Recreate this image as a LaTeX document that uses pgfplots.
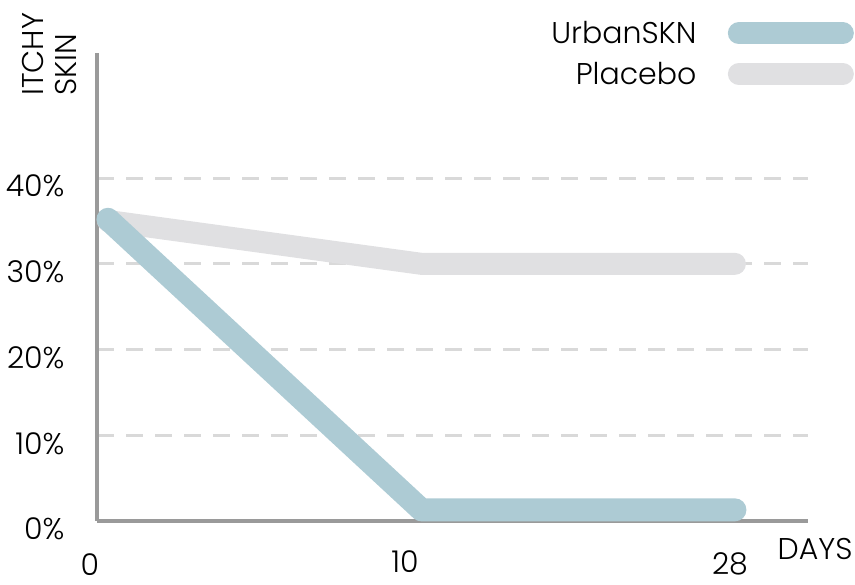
\documentclass[border=0pt]{standalone}
\usepackage{pgfplots}
\pgfplotsset{compat=1.18}
\usepackage{fontspec}
\setmainfont{Poppins}[UprightFont=* Light]
\definecolor{urban}{HTML}{ADCBD4}
\definecolor{placebo}{HTML}{E0E0E2}
\definecolor{axisgray}{HTML}{9A9A9A}
\definecolor{gridgray}{HTML}{D9D9D9}
\begin{document}
\begin{tikzpicture}
\path[use as bounding box] (0,0) rectangle (855pt,585pt);
\begin{axis}[
  at={(97pt,64pt)}, anchor=south west,
  scale only axis, width=711pt, height=468pt,
  xmin=-0.035, xmax=2.233, ymin=0, ymax=54.6,
  axis lines=left,
  axis line style={-, draw=axisgray, line width=4pt},
  font=\fontsize{30}{33}\selectfont,
  /pgf/number format/assume math mode=true,
  xtick={0,1,2},
  xticklabels={\makebox[0pt][c]{\hspace{-36pt}\raisebox{2pt}[0pt][0pt]{0}},
               \makebox[0pt][c]{\hspace{-33pt}\raisebox{5pt}[0pt][0pt]{10}},
               \makebox[0pt][c]{\hspace{-10pt}\raisebox{3pt}[0pt][0pt]{28}}},
  ytick={0,10,20,30,40}, yticklabels={0\%,10\%,20\%,30\%,40\%},
  major tick length=0pt,
  xticklabel style={anchor=center, inner sep=0pt, yshift=-57pt},
  yticklabel style={anchor=east, xshift=-29pt, yshift=-8pt},
  ymajorgrids,
  grid style={draw=gridgray, line width=3pt, dash pattern=on 17pt off 12pt},
  xlabel={DAYS},
  xlabel style={at={(rel axis cs:1.01,-0.06)}, anchor=center},
  ylabel={ITCHY\\SKIN},
  ylabel style={at={(rel axis cs:-0.067,0.997)}, anchor=center, align=left, rotate=0},
  reverse legend,
  legend style={at={(rel axis cs:1.069,1.072)}, anchor=north east, draw=none, fill=none,
    legend cell align=right, row sep=17pt,
    nodes={inner sep=0pt}},
  legend plot pos=right,
  clip=false,
]
\addplot[placebo, line width=22pt, line cap=round, line join=round,
  legend image code/.code={\path (0pt,0pt); \draw[placebo, line width=22pt, line cap=round] (31pt,0pt) -- (135pt,0pt);}]
  coordinates {(0,35) (1,30) (2,30)};
\addlegendentry{Placebo}
\addplot[urban, line width=23pt, line cap=round, line join=round,
  legend image code/.code={\path (0pt,0pt); \draw[urban, line width=22pt, line cap=round] (31pt,0pt) -- (135pt,0pt);}]
  coordinates {(0,35.2) (1,1.3) (2,1.3)};
\addlegendentry{UrbanSKN}
\end{axis}
\end{tikzpicture}
\end{document}
